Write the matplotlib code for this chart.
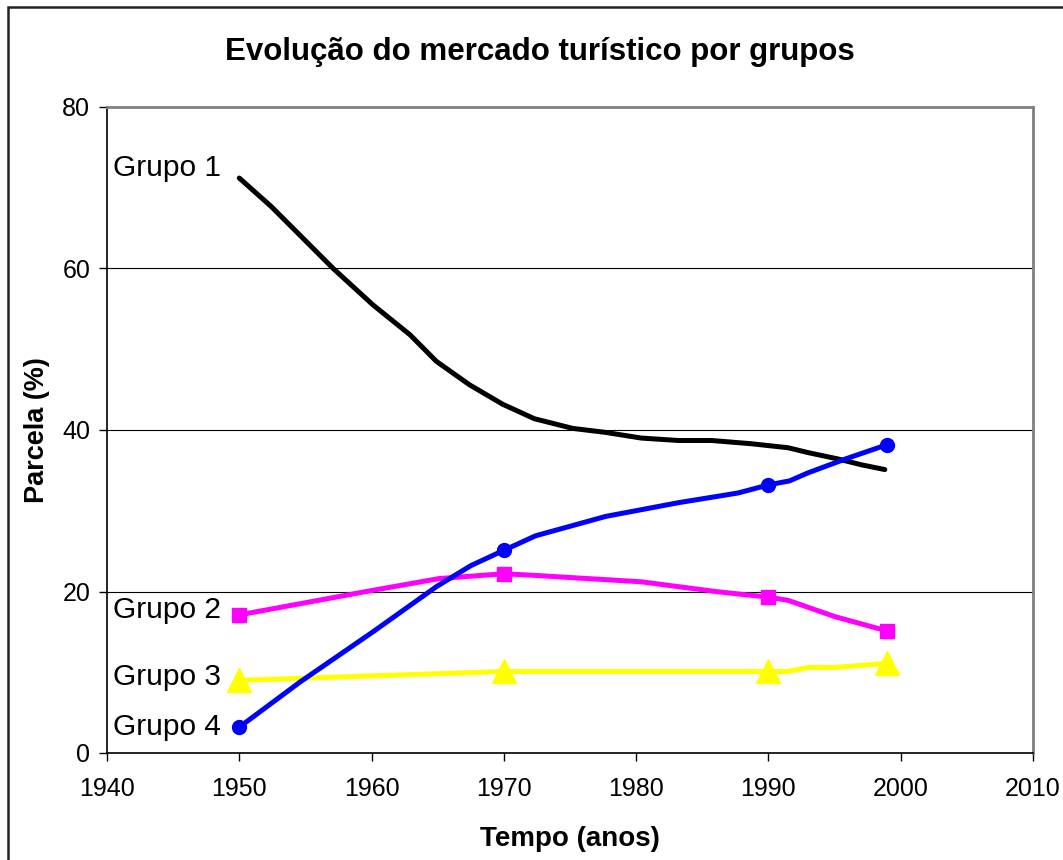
import matplotlib.pyplot as plt
from matplotlib.patches import Rectangle

plt.rcParams['font.family'] = ['Liberation Sans', 'DejaVu Sans']

# Data
anos_g1 = [1950, 1952.4, 1954.6, 1957.1, 1960.1, 1962.9, 1964.9, 1967.4, 1969.9, 1972.3,
           1975.2, 1977.7, 1980.4, 1983.2, 1985.7, 1988.7, 1991.5, 1993.0, 1995.3, 1997.0, 1998.8]
grupo1 = [71.2, 67.7, 64.1, 60.0, 55.5, 51.8, 48.5, 45.6, 43.2, 41.4,
          40.2, 39.7, 39.0, 38.7, 38.7, 38.3, 37.8, 37.2, 36.4, 35.7, 35.1]

anos_g2 = [1950, 1959.6, 1965.1, 1970, 1972.3, 1980.4, 1986.0, 1990, 1991.5, 1995.0, 1999]
grupo2 = [17.1, 20.0, 21.6, 22.2, 22.0, 21.2, 20.0, 19.3, 18.9, 16.9, 15.1]
marcas_g2 = [0, 3, 7, 10]

anos_g3 = [1950, 1970, 1990, 1991.5, 1993.0, 1995.0, 1999]
grupo3 = [9.0, 10.1, 10.1, 10.1, 10.6, 10.6, 11.1]
marcas_g3 = [0, 1, 2, 6]

anos_g4 = [1950, 1954.6, 1960.1, 1964.9, 1967.5, 1970, 1972.4, 1977.7, 1983.2, 1987.7,
           1990, 1991.6, 1993.0, 1995.8, 1999]
grupo4 = [3.2, 8.8, 15.0, 20.6, 23.2, 25.1, 26.9, 29.3, 31.0, 32.2,
          33.2, 33.7, 34.7, 36.4, 38.2]
marcas_g4 = [0, 5, 10, 14]

rotulos = ['Grupo 1', 'Grupo 2', 'Grupo 3', 'Grupo 4']
rotulos_y = [72.4, 17.7, 9.4, 3.2]

fig = plt.figure(figsize=(10.63, 8.6), dpi=100)
ax = fig.add_axes([107 / 1063, 1 - 753 / 860, (1033 - 107) / 1063, (753 - 107) / 860])

ax.plot(anos_g1, grupo1, color='black', lw=3.6, solid_capstyle='round', zorder=3)
ax.plot(anos_g2, grupo2, color='#FF00FF', lw=3.6, marker='s', ms=9.5,
        markevery=marcas_g2, zorder=3)
ax.plot(anos_g3, grupo3, color='#FFFF00', lw=3.6, marker='^', ms=17,
        markevery=marcas_g3, zorder=3)
ax.plot(anos_g4, grupo4, color='#0000FF', lw=3.6, marker='o', ms=10,
        markevery=marcas_g4, zorder=4)

for txt, yv in zip(rotulos, rotulos_y):
    ax.text(1940.45, yv, txt, fontsize=21.5, ha='left', va='center', zorder=5)

ax.set_xlim(1940, 2010)
ax.set_ylim(0, 80)
ax.set_xticks(range(1940, 2011, 10))
ax.set_yticks(range(0, 81, 20))
ax.tick_params(axis='both', labelsize=18, direction='out', length=6, width=1)
ax.tick_params(axis='x', pad=11)
ax.tick_params(axis='y', pad=6)
ax.grid(axis='y', color='black', lw=0.8)
ax.set_axisbelow(True)

for s in ['left', 'bottom']:
    ax.spines[s].set_color('black')
    ax.spines[s].set_linewidth(1.2)
for s in ['top', 'right']:
    ax.spines[s].set_color('#808080')
    ax.spines[s].set_linewidth(2)

ax.set_xlabel('Tempo (anos)', fontsize=20, fontweight='bold', labelpad=18)
ax.set_ylabel('Parcela (%)', fontsize=19.5, fontweight='bold', labelpad=9)

fig.text(540 / 1063, 1 - 52 / 860, 'Evolução do mercado turístico por grupos',
         fontsize=22.5, fontweight='bold', ha='center', va='center')

fig.patches.append(Rectangle((8 / 1063, -0.1), 1.2, 1 - 6.5 / 860 + 0.1,
                             transform=fig.transFigure, fill=False,
                             edgecolor='#222222', lw=1.8))

fig.savefig('out.png', dpi=100)
